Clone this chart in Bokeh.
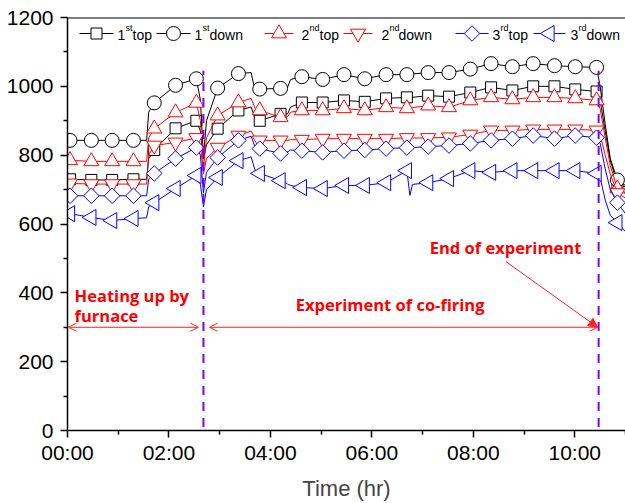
import numpy as np
from bokeh.plotting import figure
from bokeh.models import (FixedTicker, Arrow, OpenHead, NormalHead, Span, Range1d)
from bokeh.core.properties import value
from bokeh.embed import file_html
from bokeh.resources import INLINE

# ---------------- data ----------------
time_h = [0.0, 0.05, 0.47, 0.88, 1.30, 1.56, 1.60, 1.71, 2.13, 2.54, 2.62, 2.68, 2.74, 2.96,
          3.37, 3.62, 3.70, 3.79, 4.20, 4.34, 4.40, 4.62, 5.03, 5.45, 5.86, 6.28, 6.69, 6.75,
          6.80, 7.11, 7.52, 7.94, 8.35, 8.77, 9.18, 9.60, 10.01, 10.43, 10.50, 10.60, 10.70,
          10.84, 11.0]

marker_times = [0.05, 0.47, 0.88, 1.30, 1.71, 2.13, 2.54, 2.96, 3.37, 3.79, 4.20, 4.62, 5.03,
                5.45, 5.86, 6.28, 6.69, 7.11, 7.52, 7.94, 8.35, 8.77, 9.18, 9.60, 10.01, 10.43,
                10.84]

first_top = [730, 730, 728, 728, 730, 730, 790, 815, 878, 900, 870, 790, 830, 877,
             930, 940, 905, 900, 920, 920, 940, 953, 953, 959, 955, 965, 968, 968,
             968, 973, 970, 982, 997, 988, 1000, 1000, 991, 985, 960, 870, 785, 716, 708]
first_down = [845, 843, 843, 843, 843, 843, 925, 952, 1003, 1022, 960, 795, 900, 995,
              1037, 1040, 985, 992, 994, 998, 1020, 1028, 1020, 1034, 1022, 1034, 1034, 1036,
              1036, 1040, 1040, 1050, 1066, 1057, 1066, 1060, 1057, 1055, 1000, 890, 790, 728, 712]
second_top = [800, 785, 782, 782, 782, 782, 850, 877, 924, 952, 900, 760, 850, 915,
              953, 965, 935, 930, 910, 912, 925, 930, 930, 936, 930, 939, 936, 938,
              938, 944, 939, 959, 968, 962, 968, 968, 965, 959, 935, 850, 770, 703, 688]
second_down = [720, 718, 716, 716, 716, 716, 800, 828, 837, 850, 830, 745, 790, 822,
               857, 870, 850, 843, 843, 843, 845, 845, 848, 848, 848, 848, 850, 850,
               850, 850, 852, 860, 872, 872, 875, 875, 875, 872, 860, 800, 745, 690, 675]
third_top = [690, 682, 682, 682, 682, 682, 730, 747, 790, 822, 800, 690, 750, 793,
             843, 855, 822, 819, 805, 810, 815, 813, 808, 813, 815, 819, 822, 822,
             822, 825, 828, 834, 843, 848, 857, 848, 857, 851, 835, 760, 700, 662, 630]
third_down = [640, 630, 619, 610, 616, 618, 650, 662, 703, 741, 715, 650, 700, 735,
              784, 795, 755, 747, 726, 716, 712, 706, 703, 712, 712, 720, 755, 683,
              715, 720, 732, 755, 750, 755, 755, 755, 755, 747, 735, 670, 625, 604, 578]

series_values = [first_top, first_down, second_top, second_down, third_top, third_down]
legend_num = ["1", "1", "2", "2", "3", "3"]
legend_sup = ["st", "st", "nd", "nd", "rd", "rd"]
legend_word = ["top", "down", "top", "down", "top", "down"]

y_ticks = [0, 200, 400, 600, 800, 1000, 1200]
y_minor = [100, 300, 500, 700, 900, 1100]
x_ticks = [0, 2, 4, 6, 8, 10]
x_minor = [1, 3, 5, 7, 9, 11]
x_tick_labels = ["00:00", "02:00", "04:00", "06:00", "08:00", "10:00"]

event_times = [2.68, 10.47]          # end of heating / end of experiment
event_line_bottom = 10
event_line_top = 1045

ann_texts = ["Heating up by", "furnace", "Experiment of co-firing", "End of experiment"]
ann_x = [0.14, 0.14, 4.50, 7.14]
ann_y = [392, 334, 366, 533]
arrow_level = 300

# ---------------- styles / layout ----------------
W, H = 625, 503
FL, FT, FB = 67, 17, 73              # frame borders (px)
X0, X1, Y0, Y1 = 0, 11, 0, 1200

colors = ["#000000", "#000000", "#ff0000", "#ff0000", "#0000ff", "#0000ff"]
markers = ["square", "circle", "triangle", "inverted_triangle", "square", "triangle"]
msizes = [11, 14, 15, 15, 11, 16]
mangles = [0, 0, 0, 0, np.pi / 4, np.pi / 2]

# legend key layout, in screen pixels of the page
leg_line_px = [(79, 113), (156, 190), (264, 293), (343, 372), (455, 488), (533, 565)]
leg_num_px = [117, 194, 301, 381, 492, 570]
leg_sup_px = [125, 202, 309, 389, 500, 578]
leg_word_px = [132, 209, 319, 398, 508, 586]
leg_row_py, leg_base_py, leg_sup_py = 33, 34, 27

frame_w = W - FL
frame_h = H - FT - FB


def px2x(px):
    return X0 + (px - FL) * (X1 - X0) / frame_w


def py2y(py):
    return Y0 + (H - FB - py) * (Y1 - Y0) / frame_h


FONT = "Liberation Sans"

p = figure(width=W, height=H, output_backend="svg", toolbar_location=None,
           x_range=Range1d(X0, X1), y_range=Range1d(Y0, Y1),
           min_border_left=FL, min_border_right=0, min_border_top=FT, min_border_bottom=FB)
p.outline_line_color = None
p.xgrid.visible = False
p.ygrid.visible = False
p.background_fill_color = "white"
p.border_fill_color = "white"

t_arr = np.array(time_h)
mask = np.isin(np.round(t_arr, 2), np.round(np.array(marker_times), 2))

for vals, c, m, s, a in zip(series_values, colors, markers, msizes, mangles):
    v = np.array(vals, dtype=float)
    p.line(t_arr, v, line_color=c, line_width=1)
    p.scatter(t_arr[mask], v[mask], marker=m, size=s, angle=a,
              line_color=c, line_width=1, fill_color="white")

# event lines
p.segment(x0=event_times, y0=[event_line_bottom] * 2, x1=event_times,
          y1=[event_line_top] * 2, line_color="#7b00ff", line_width=2, line_dash="9 7")

# top frame line
p.add_layout(Span(location=Y1, dimension="width", line_color="black", line_width=2))

# arrows
red = "#ff2020"
p.add_layout(Arrow(x_start=0.02, y_start=arrow_level, x_end=event_times[0] - 0.1, y_end=arrow_level,
                   start=OpenHead(size=8, line_color=red, line_width=1),
                   end=OpenHead(size=8, line_color=red, line_width=1),
                   line_color=red, line_width=1))
p.add_layout(Arrow(x_start=event_times[0] + 0.12, y_start=arrow_level, x_end=event_times[1] - 0.02,
                   y_end=arrow_level,
                   start=OpenHead(size=8, line_color=red, line_width=1),
                   end=OpenHead(size=8, line_color=red, line_width=1),
                   line_color=red, line_width=1))
p.add_layout(Arrow(x_start=8.64, y_start=491, x_end=event_times[1] - 0.02, y_end=arrow_level,
                   end=NormalHead(size=9, line_color=red, fill_color=red, line_width=1),
                   line_color=red, line_width=1))

p.text(x=ann_x, y=ann_y, text=ann_texts, text_color="#ff0000",
       text_font=value("Open Sans"), text_font_style="bold", text_font_size="16.5px",
       text_baseline="alphabetic", text_align="left")

# legend key (drawn as glyphs so that rotated markers and superscripts show)
ly = py2y(leg_row_py)
for i in range(6):
    xa, xb = px2x(leg_line_px[i][0]), px2x(leg_line_px[i][1])
    p.line([xa, xb], [ly, ly], line_color=colors[i], line_width=1)
    p.scatter([(xa + xb) / 2], [ly], marker=markers[i], size=msizes[i], angle=mangles[i],
              line_color=colors[i], line_width=1, fill_color="white")
p.text(x=[px2x(v) for v in leg_num_px], y=[py2y(leg_base_py)] * 6, text=legend_num,
       text_font=value(FONT), text_font_size="14px", text_color="black",
       text_baseline="alphabetic")
p.text(x=[px2x(v) for v in leg_sup_px], y=[py2y(leg_sup_py)] * 6, text=legend_sup,
       text_font=value(FONT), text_font_size="9px", text_color="black",
       text_baseline="alphabetic")
p.text(x=[px2x(v) for v in leg_word_px], y=[py2y(leg_base_py)] * 6, text=legend_word,
       text_font=value(FONT), text_font_size="14px", text_color="black",
       text_baseline="alphabetic")

# axes
for ax in (p.xaxis[0], p.yaxis[0]):
    ax.axis_line_width = 1.5
    ax.major_tick_line_width = 1.5
    ax.minor_tick_line_width = 1.5
    ax.major_tick_in = 0
    ax.major_tick_out = 7
    ax.minor_tick_in = 0
    ax.minor_tick_out = 4
    ax.major_label_text_font = FONT
    ax.major_label_text_font_size = "21px"
    ax.major_label_text_color = "black"
    ax.axis_line_color = "black"
    ax.major_tick_line_color = "black"
    ax.minor_tick_line_color = "black"

p.yaxis[0].major_label_standoff = 7
p.xaxis[0].major_label_standoff = 3
p.yaxis[0].ticker = FixedTicker(ticks=y_ticks, minor_ticks=y_minor)
p.xaxis[0].ticker = FixedTicker(ticks=x_ticks, minor_ticks=x_minor)
p.xaxis[0].major_label_overrides = {t: lab for t, lab in zip(x_ticks, x_tick_labels)}
p.xaxis[0].axis_label = "Time (hr)"
p.xaxis[0].axis_label_text_font = FONT
p.xaxis[0].axis_label_text_font_size = "22px"
p.xaxis[0].axis_label_text_font_style = "normal"
p.xaxis[0].axis_label_standoff = 9

open("out.html", "w").write(file_html(p, INLINE))
